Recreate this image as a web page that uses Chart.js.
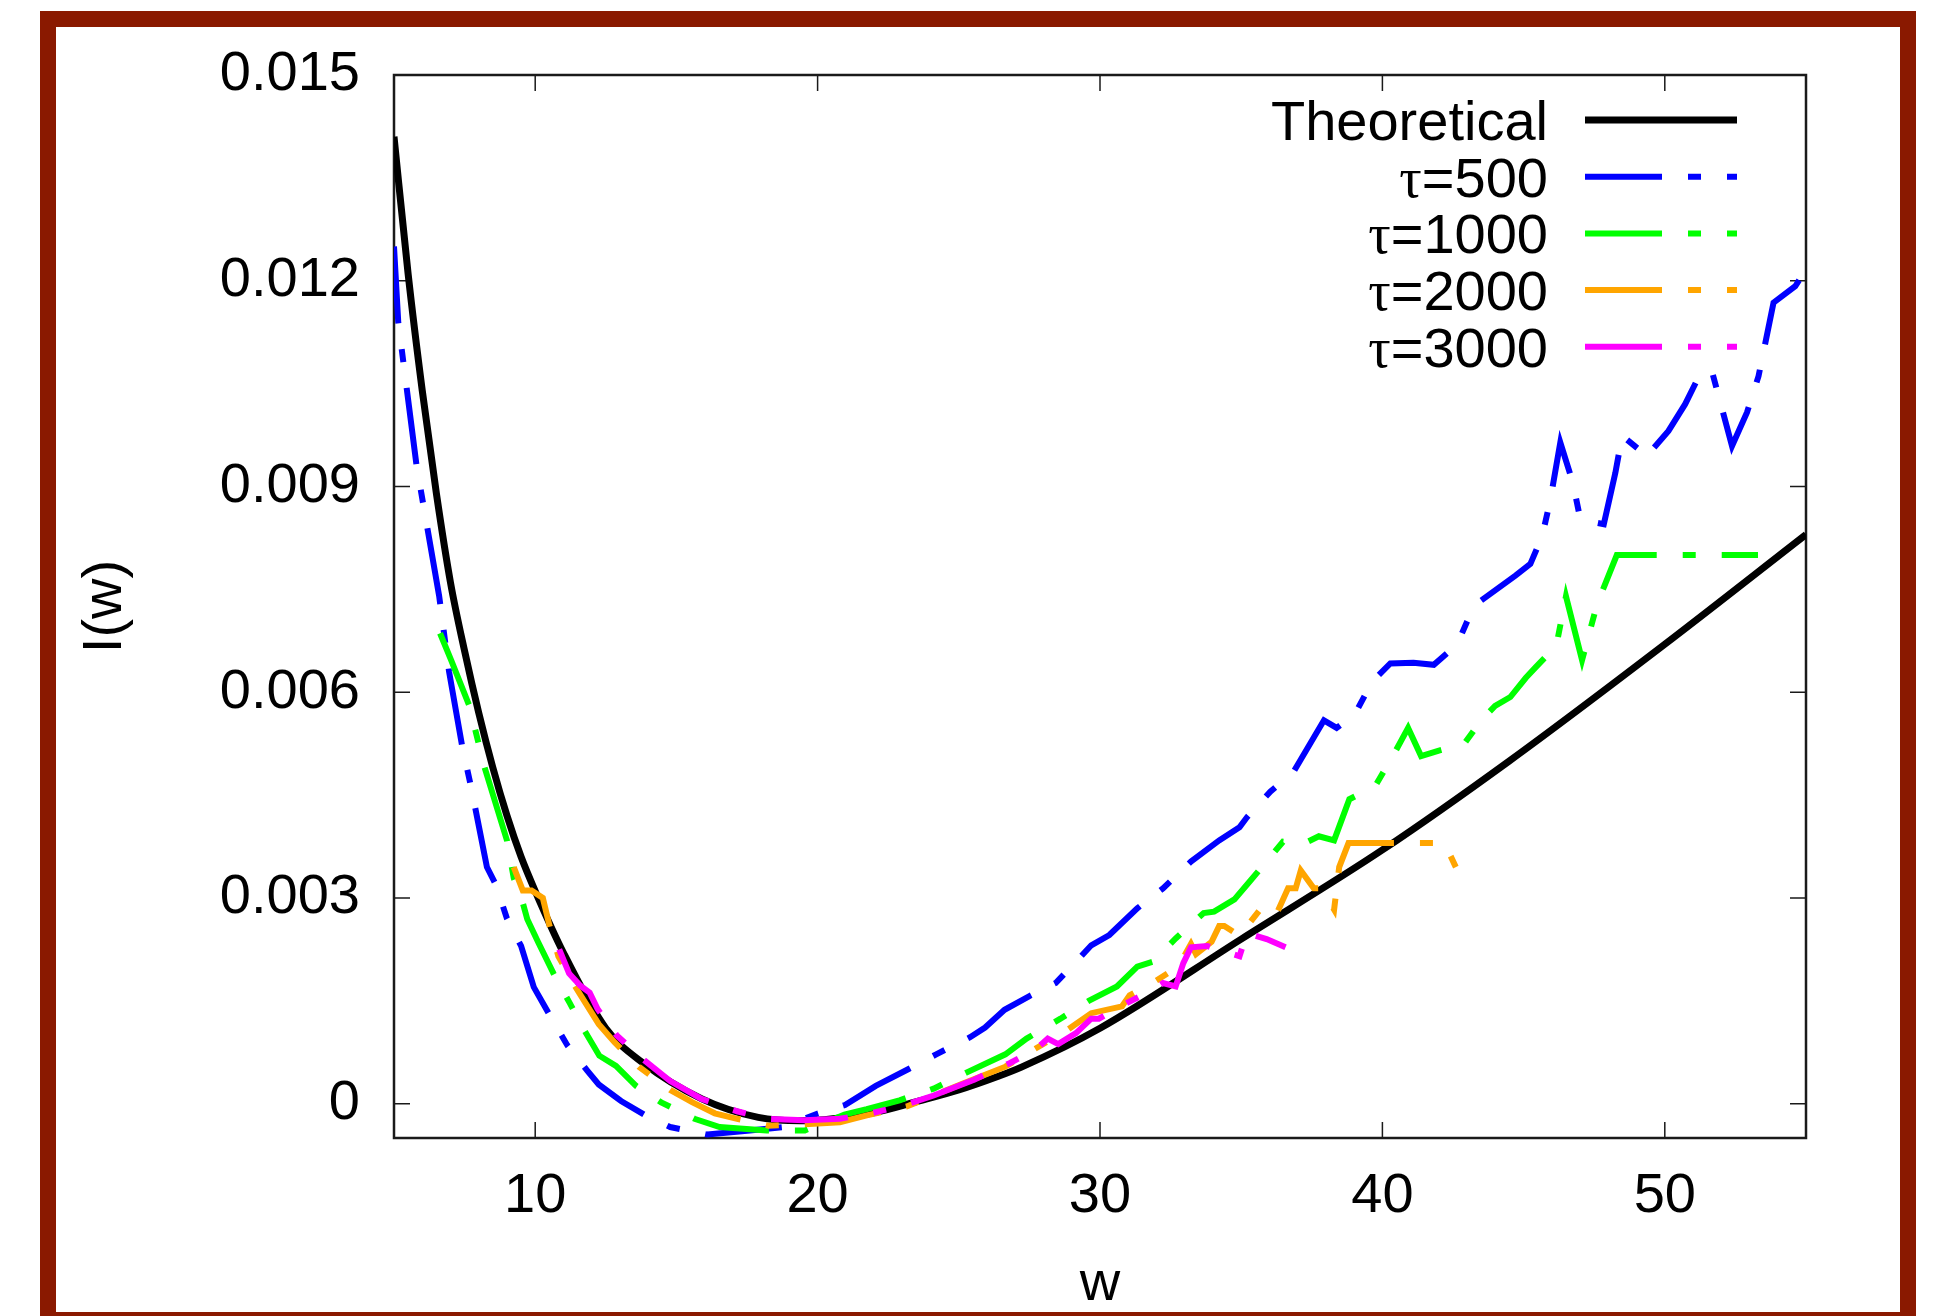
<!DOCTYPE html>
<html>
<head>
<meta charset="utf-8">
<title>I(w)</title>
<script src="https://cdn.jsdelivr.net/npm/chart.js@4.4.1/dist/chart.umd.min.js"></script>
<style>
  html, body { margin: 0; padding: 0; background: #fff; overflow: hidden; }
  #frame { position: absolute; left: 40px; top: 11px; width: 1876px; height: 1317px;
           box-sizing: border-box; border: 16px solid #8a1900; }
  #plot { position: absolute; left: 0; top: 0; }
</style>
</head>
<body>
<div id="frame"></div>
<canvas id="plot" width="1936" height="1316"></canvas>
<script>
// axis ticks
const xTicks = [10, 20, 30, 40, 50];
const yTicks = [0, 0.003, 0.006, 0.009, 0.012, 0.015];
const yTickLabels = ['0', '0.003', '0.006', '0.009', '0.012', '0.015'];

// Theoretical curve
const theoryW = [5, 5.5, 6, 6.5, 7, 7.5, 8, 8.5, 9, 9.5, 10, 11, 12.5, 13.8, 15.9, 17.9, 19.4, 21.9, 23.6, 25, 26.4, 27.2, 30, 35, 40, 44.5, 50, 55];
const theoryI = [0.0141, 0.0121, 0.0104, 0.0089, 0.0076, 0.0066, 0.0057, 0.0049, 0.0042, 0.0036, 0.0031, 0.0022, 0.0011, 0.0006, 0.00007, -0.0002, -0.00025, -0.00014, 0.00004, 0.0002, 0.0004, 0.00053, 0.0011, 0.0024, 0.0037, 0.005, 0.0067, 0.0083];

// tau = 500
const w500 = [5, 5.15, 5.8, 6.6, 6.95, 7.42, 7.74, 8.29, 8.6, 9, 9.5, 9.95, 10.5, 11.14, 11.85, 12.25, 13.04, 13.9, 14.78, 16.1, 17.6, 18.8, 19.96, 20.97, 22.06, 23.24, 24.2, 25.4, 25.93, 26.62, 27.5, 28.43, 29.33, 29.69, 30.33, 31.32, 32.23, 33.22, 34.22, 34.94, 35.21, 36.03, 36.84, 37.93, 38.38, 39.01, 39.65, 40.28, 41.1, 41.82, 42.65, 43.24, 44.71, 45.24, 45.66, 45.95, 46.3, 46.74, 47.01, 47.84, 48.25, 48.49, 49.08, 49.31, 50.13, 50.72, 51.25, 51.67, 52.38, 52.91, 53.32, 53.85, 54.62, 54.85];
const i500 = [0.0125, 0.0114, 0.0093, 0.0074, 0.0063, 0.0052, 0.0046, 0.00345, 0.0032, 0.0027, 0.0023, 0.0017, 0.0013, 0.00085, 0.00048, 0.00028, 0.00004, -0.00017, -0.00034, -0.00045, -0.00039, -0.00034, -0.00015, -0.00002, 0.00026, 0.00051, 0.00072, 0.00097, 0.00111, 0.00137, 0.00157, 0.00176, 0.00215, 0.00231, 0.00246, 0.00285, 0.00314, 0.00353, 0.00384, 0.00403, 0.00418, 0.00455, 0.00483, 0.00559, 0.00548, 0.00567, 0.00616, 0.00642, 0.00643, 0.0064, 0.0067, 0.00726, 0.0077, 0.00787, 0.00828, 0.00881, 0.00964, 0.00906, 0.00852, 0.00845, 0.0092, 0.00974, 0.00954, 0.00942, 0.00981, 0.0102, 0.01064, 0.01068, 0.00959, 0.01008, 0.01061, 0.01168, 0.01192, 0.01207];

// tau = 1000
const w1000 = [6.63, 7.03, 7.66, 8.21, 9.0, 9.24, 9.56, 9.72, 10.11, 10.66, 11.22, 11.74, 12.27, 12.86, 13.57, 14.46, 15.64, 16.53, 18.2, 19.55, 20.95, 21.74, 22.9, 24.11, 25.25, 26.65, 27.4, 28.6, 29.6, 30.6, 31.32, 31.86, 32.68, 33.67, 34.04, 34.76, 35.3, 35.85, 36.48, 37.2, 37.75, 38.29, 38.83, 39.74, 40.37, 40.91, 41.37, 42.0, 42.9, 43.54, 43.99, 44.53, 45.08, 45.44, 46.16, 46.5, 47.07, 47.6, 48.3, 53.3];
const i1000 = [0.00686, 0.00646, 0.00581, 0.0049, 0.00384, 0.00329, 0.00293, 0.00269, 0.00235, 0.00189, 0.00147, 0.00107, 0.0007, 0.00055, 0.00026, 0.00002, -0.00022, -0.00034, -0.00039, -0.00039, -0.00016, -0.00008, 0.00005, 0.00022, 0.00045, 0.00072, 0.00095, 0.00124, 0.0015, 0.00171, 0.002, 0.00207, 0.00241, 0.00278, 0.0028, 0.00298, 0.00324, 0.00351, 0.00382, 0.00379, 0.0039, 0.00384, 0.00444, 0.00463, 0.00507, 0.00548, 0.00507, 0.00515, 0.00525, 0.00561, 0.0058, 0.00593, 0.00621, 0.00637, 0.00668, 0.0074, 0.00647, 0.00728, 0.008, 0.008];

// tau = 2000
const w2000 = [9.24, 9.56, 9.87, 10.27, 10.51, 10.82, 11.46, 12.25, 12.8, 13.67, 14.78, 15.57, 16.36, 17.15, 18.26, 19.5, 20.79, 21.74, 23.16, 25.06, 26.65, 27.7, 28.79, 29.69, 30.78, 31.05, 31.86, 32.77, 33.22, 33.4, 33.95, 34.22, 34.4, 34.94, 35.67, 36.2, 36.66, 36.93, 37.11, 37.57, 37.84, 38.29, 38.47, 38.8, 42.2, 42.6];
const i2000 = [0.00345, 0.00311, 0.00311, 0.003, 0.00259, 0.00215, 0.00168, 0.00116, 0.0009, 0.00054, 0.0002, 0.00002, -0.00014, -0.00022, -0.00032, -0.0003, -0.00027, -0.00017, -0.00004, 0.00028, 0.00054, 0.0008, 0.00106, 0.00132, 0.00142, 0.00158, 0.00176, 0.002, 0.00233, 0.00218, 0.00236, 0.00259, 0.00259, 0.00245, 0.00283, 0.00272, 0.00314, 0.00314, 0.0034, 0.00314, 0.00314, 0.00283, 0.00345, 0.0038, 0.0038, 0.00345];

// tau = 3000
const w3000 = [10.85, 11.2, 11.6, 11.93, 12.21, 12.88, 13.75, 14.78, 15.89, 17.15, 18.26, 19.52, 20.79, 21.9, 23.16, 24.11, 25.54, 26.8, 27.75, 28.15, 28.52, 29.15, 29.69, 29.96, 30.96, 31.86, 32.23, 32.68, 32.95, 33.22, 33.8, 34.4, 34.94, 35.2, 35.9, 36.57];
const i3000 = [0.00225, 0.0019, 0.00172, 0.00162, 0.00138, 0.001, 0.00067, 0.00033, 0.00007, -0.00011, -0.00022, -0.00024, -0.00022, -0.00014, -0.00001, 0.00012, 0.00035, 0.00059, 0.0008, 0.00095, 0.00087, 0.00103, 0.00124, 0.00124, 0.00147, 0.00166, 0.00176, 0.00171, 0.00205, 0.00228, 0.0023, 0.00222, 0.00215, 0.00249, 0.0024, 0.00228];

// gnuplot style long dash / dot
const dashDot = [77, 26, 13, 26];

function pts(ws, vs) {
  return ws.map((w, i) => ({x: w, y: vs[i]}));
}

// box round the plot with inward ticks on all four sides
const frameTicks = {
  id: 'frameTicks',
  beforeDatasetsDraw(chart, args, o) {
    const {ctx, chartArea: a, scales: {x, y}} = chart;
    ctx.save();
    ctx.strokeStyle = o.color;
    ctx.lineWidth = o.tickWidth;
    ctx.beginPath();
    for (const t of x.ticks) {
      const px = x.getPixelForValue(t.value);
      ctx.moveTo(px, a.bottom); ctx.lineTo(px, a.bottom - o.tickLength);
      ctx.moveTo(px, a.top); ctx.lineTo(px, a.top + o.tickLength);
    }
    for (const t of y.ticks) {
      const py = y.getPixelForValue(t.value);
      ctx.moveTo(a.left, py); ctx.lineTo(a.left + o.tickLength, py);
      ctx.moveTo(a.right, py); ctx.lineTo(a.right - o.tickLength, py);
    }
    ctx.stroke();
    ctx.lineWidth = o.borderWidth;
    ctx.strokeRect(a.left, a.top, a.right - a.left, a.bottom - a.top);
    ctx.restore();
  }
};

// legend in the top right corner: text right-aligned, sample line after it
const cornerLegend = {
  id: 'cornerLegend',
  afterDatasetsDraw(chart, args, o) {
    const {ctx, chartArea: a} = chart;
    const x1 = a.right - o.lineRight;
    const x0 = x1 - o.lineLength;
    const tx = x0 - o.gap;
    ctx.save();
    chart.data.datasets.forEach((ds, i) => {
      const y = a.top + o.firstRow + i * o.rowStep;
      const base = y + o.size * 0.358;
      ctx.fillStyle = '#000';
      ctx.textAlign = 'right';
      ctx.textBaseline = 'alphabetic';
      ctx.font = o.size + 'px ' + o.family;
      if (ds.label.startsWith('τ')) {
        // greek letter from a serif face, like the original
        const rest = ds.label.slice(1);
        ctx.fillText(rest, tx, base);
        const w = ctx.measureText(rest).width;
        ctx.font = o.size + 'px ' + o.greekFamily;
        ctx.fillText('τ', tx - w, base);
      } else {
        ctx.fillText(ds.label, tx, base);
      }
      ctx.strokeStyle = ds.borderColor;
      ctx.lineWidth = ds.borderWidth;
      ctx.setLineDash(ds.borderDash || []);
      ctx.beginPath();
      ctx.moveTo(x0, y);
      ctx.lineTo(x1, y);
      ctx.stroke();
    });
    ctx.restore();
  }
};

const fontFamily = '"Liberation Sans", Arial, Helvetica, sans-serif';
Chart.defaults.font.family = fontFamily;
Chart.defaults.font.size = 56;
Chart.defaults.color = '#000';

const config = {
  type: 'line',
  data: {
    datasets: [
      {label: 'Theoretical', data: pts(theoryW, theoryI), borderColor: '#000000',
       borderWidth: 7, cubicInterpolationMode: 'monotone', order: 5},
      {label: 'τ=500', data: pts(w500, i500), borderColor: '#0000ff',
       borderWidth: 6, borderDash: dashDot, order: 4},
      {label: 'τ=1000', data: pts(w1000, i1000), borderColor: '#00ff00',
       borderWidth: 6, borderDash: dashDot, order: 3},
      {label: 'τ=2000', data: pts(w2000, i2000), borderColor: '#ffa500',
       borderWidth: 6, borderDash: dashDot, order: 2},
      {label: 'τ=3000', data: pts(w3000, i3000), borderColor: '#ff00ff',
       borderWidth: 6, borderDash: dashDot, order: 1}
    ]
  },
  options: {
    responsive: false,
    animation: false,
    devicePixelRatio: 1,
    layout: {padding: {left: 0, right: 130, top: 75, bottom: 0}},
    elements: {point: {radius: 0}, line: {tension: 0}},
    scales: {
      x: {
        type: 'linear',
        min: 5,
        max: 55,
        grid: {display: false, drawTicks: false},
        border: {display: false},
        afterBuildTicks: s => { s.ticks = xTicks.map(v => ({value: v})); },
        afterFit: s => { s.height = 178; },
        ticks: {padding: 25, maxRotation: 0, callback: v => String(v)},
        title: {display: true, text: 'w', padding: {top: 0, bottom: -2}}
      },
      y: {
        type: 'linear',
        min: -0.0005,
        max: 0.015,
        grid: {display: false, drawTicks: false},
        border: {display: false},
        afterBuildTicks: s => { s.ticks = yTicks.map(v => ({value: v})); },
        afterFit: s => { s.width = 394; },
        ticks: {padding: 34, callback: (v, i) => yTickLabels[i]},
        title: {display: true, text: 'I(w)', padding: {top: 72, bottom: 0}}
      }
    },
    plugins: {
      legend: {display: false},
      tooltip: {enabled: false},
      frameTicks: {color: '#1a1a1a', tickLength: 16, tickWidth: 1.5, borderWidth: 2.5},
      cornerLegend: {size: 56, family: fontFamily, greekFamily: '"Liberation Serif", "DejaVu Serif", serif',
                     lineRight: 69, lineLength: 152, gap: 37, firstRow: 45, rowStep: 56.7}
    }
  },
  plugins: [frameTicks, cornerLegend]
};

const chart = new Chart(document.getElementById('plot'), config);
</script>
</body>
</html>
